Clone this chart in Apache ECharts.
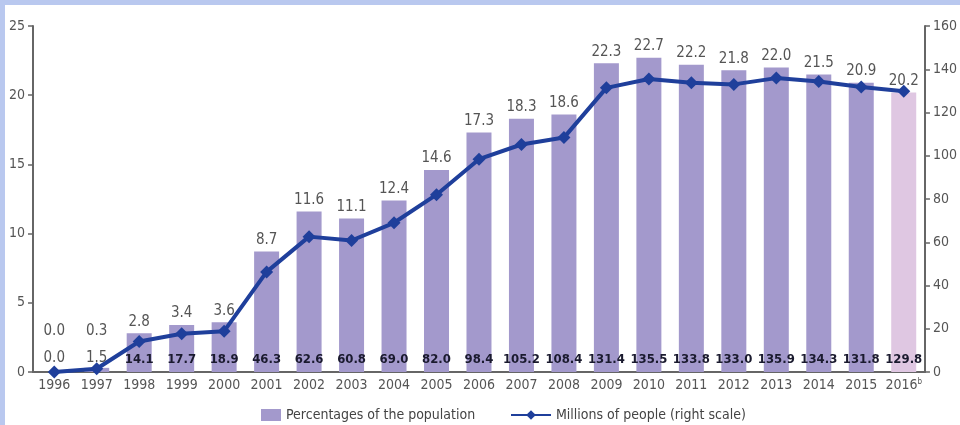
<!DOCTYPE html>
<html>
<head>
<meta charset="utf-8">
<script src="https://cdn.jsdelivr.net/npm/echarts@6/dist/echarts.min.js"></script>
<style>
  html, body { margin: 0; padding: 0; background: #fff; }
  #wrap { width: 960px; height: 425px; position: relative; box-sizing: border-box;
          border-top: 5px solid #b9c8ef; border-left: 5px solid #b9c8ef; }
  #chart { position: absolute; left: -5px; top: -5px; width: 960px; height: 425px; }
</style>
</head>
<body>
<div id="wrap"><div id="chart"></div></div>
<script>
var years = ['1996','1997','1998','1999','2000','2001','2002','2003','2004','2005','2006',
             '2007','2008','2009','2010','2011','2012','2013','2014','2015','2016'];
var percent = [0.0, 0.3, 2.8, 3.4, 3.6, 8.7, 11.6, 11.1, 12.4, 14.6, 17.3,
               18.3, 18.6, 22.3, 22.7, 22.2, 21.8, 22.0, 21.5, 20.9, 20.2];
var millions = [0.0, 1.5, 14.1, 17.7, 18.9, 46.3, 62.6, 60.8, 69.0, 82.0, 98.4,
                105.2, 108.4, 131.4, 135.5, 133.8, 133.0, 135.9, 134.3, 131.8, 129.8];
var leftTicks = [0, 5, 10, 15, 20, 25];
var rightTicks = [0, 20, 40, 60, 80, 100, 120, 140, 160];

var font = '"DejaVu Sans Condensed", "Liberation Sans Narrow", sans-serif';
var barColor = '#a399cc';
var lastColor = '#dfc7e2';
var lineColor = '#1f3f9b';

var chart = echarts.init(document.getElementById('chart'));

var barData = percent.map(function (v, i) {
  var d = { value: v, itemStyle: { color: i === percent.length - 1 ? lastColor : barColor } };
  if (i < 2) d.label = { offset: [0, i === 0 ? -29 : -25] };
  return d;
});
var innerData = percent.map(function (v, i) {
  var d = { value: v };
  if (i < 2) d.label = { color: '#555', fontWeight: 'normal', fontSize: 15, fontFamily: font };
  return d;
});

var legendText = { fontFamily: font, fontSize: 14, color: '#444' };

var option = {
  animation: false,
  textStyle: { fontFamily: font },
  grid: { left: 33, right: 29, top: 26, bottom: 53 },
  legend: [
    {
      left: 256, top: 403,
      itemWidth: 20, itemHeight: 12,
      textStyle: legendText,
      data: [{ name: 'Percentages of the population', icon: 'rect' }]
    },
    {
      left: 505, top: 403,
      itemWidth: 40, itemHeight: 12,
      textStyle: legendText,
      data: [{ name: 'Millions of people (right scale)' }]
    }
  ],
  xAxis: {
    type: 'category',
    data: years,
    axisLine: { lineStyle: { color: '#666', width: 2 } },
    axisTick: { length: 5, lineStyle: { color: '#666', width: 1.5 } },
    axisLabel: {
      interval: 0,
      color: '#555', fontSize: 14, fontFamily: font, margin: 6,
      formatter: function (v) { return v === '2016' ? '2016{s|b}' : v; },
      rich: { s: { fontSize: 8, fontFamily: font, color: '#555', verticalAlign: 'top', padding: [0, 0, 6, 0] } }
    }
  },
  yAxis: [
    {
      type: 'value', min: leftTicks[0], max: leftTicks[leftTicks.length - 1], interval: 5,
      axisLine: { show: true, lineStyle: { color: '#666', width: 2 } },
      axisTick: { show: true, length: 5, lineStyle: { color: '#666', width: 1.5 } },
      splitLine: { show: false },
      axisLabel: { color: '#555', fontSize: 14, fontFamily: font, margin: 8 }
    },
    {
      type: 'value', min: rightTicks[0], max: rightTicks[rightTicks.length - 1], interval: 20,
      position: 'right',
      axisLine: { show: true, lineStyle: { color: '#666', width: 2 } },
      axisTick: { show: true, length: 5, lineStyle: { color: '#666', width: 1.5 } },
      splitLine: { show: false },
      axisLabel: { color: '#555', fontSize: 14, fontFamily: font, margin: 8 }
    }
  ],
  series: [
    {
      name: 'Percentages of the population',
      type: 'bar',
      barWidth: 25,
      itemStyle: { color: barColor },
      label: {
        show: true, position: 'top', distance: 4,
        color: '#555', fontSize: 15, fontFamily: font,
        formatter: function (p) { return p.value.toFixed(1); }
      },
      data: barData
    },
    {
      name: 'inner',
      type: 'bar',
      barWidth: 25,
      barGap: '-100%',
      silent: true,
      itemStyle: { color: 'rgba(0,0,0,0)' },
      label: {
        show: true, position: 'insideBottom', distance: 6,
        color: '#1a1a2e', fontSize: 13, fontWeight: 'bold', fontFamily: font,
        formatter: function (p) { return millions[p.dataIndex].toFixed(1); }
      },
      data: innerData,
      z: 4
    },
    {
      name: 'Millions of people (right scale)',
      type: 'line',
      yAxisIndex: 1,
      data: millions,
      symbol: 'diamond',
      symbolSize: 13,
      lineStyle: { color: lineColor, width: 4 },
      itemStyle: { color: lineColor },
      z: 3
    }
  ]
};

chart.setOption(option);
</script>
</body>
</html>
